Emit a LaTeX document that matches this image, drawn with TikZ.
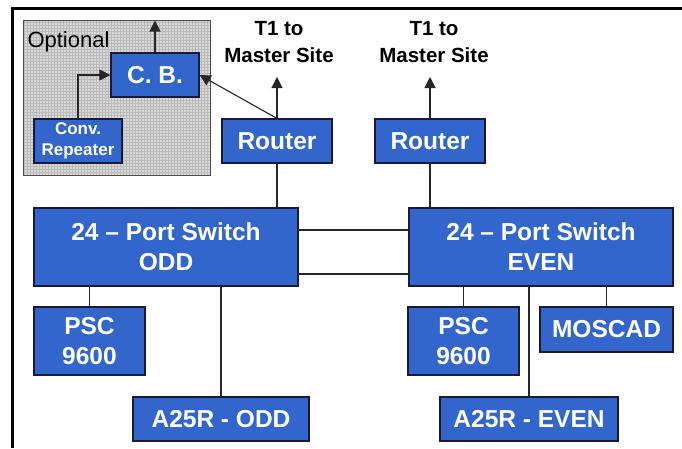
\documentclass[tikz,border=0pt]{standalone}
\usepackage{fontspec}
\setmainfont{Liberation Sans}
\usetikzlibrary{arrows.meta,patterns}
\definecolor{boxblue}{HTML}{3366CC}
\definecolor{boxedge}{HTML}{1A1A33}
\tikzset{
  unit/.style={draw=boxedge, line width=1.2pt, fill=boxblue, text=white, font=\fontsize{24.5}{30}\selectfont\bfseries, align=center, inner sep=0pt},
  conn/.style={draw=black!85, line width=1.1pt},
  arr/.style={conn, -{Triangle[width=11pt,length=11pt]}},
  lbl/.style={font=\fontsize{20.5}{27}\selectfont\bfseries, align=center, text=black}
}
\begin{document}
\begin{tikzpicture}[x=1pt,y=-1pt]
\useasboundingbox (0,0) rectangle (682,448);
% frame
\draw[line width=3pt] (12.5,448) -- (12.5,8) -- (682,8);
% optional area
\fill[gray!30] (23,20) rectangle (210,175);
\path[pattern=grid, pattern color=gray!55] (23,20) rectangle (210,175);
\draw[gray!60!black, line width=1pt] (23,20) rectangle (210,175);
\node[anchor=west, font=\fontsize{22}{24}\selectfont, text=black] (opt) at (24,42) {Optional};
% nodes
\node[unit, minimum width=88, minimum height=44] (cb) at (155,75) {C. B.};
\node[unit, minimum width=88, minimum height=44, font=\fontsize{17}{21}\selectfont\bfseries] (conv) at (78,141) {Conv.\\Repeater};
\node[unit, minimum width=110, minimum height=44] (r1) at (277,141) {Router};
\node[unit, minimum width=110, minimum height=44] (r2) at (430,141) {Router};
\node[unit, minimum width=264, minimum height=78] (odd) at (166,247) {24 -- Port Switch\\ODD};
\node[unit, minimum width=264, minimum height=78] (even) at (541,247) {24 -- Port Switch\\EVEN};
\node[unit, minimum width=111, minimum height=68] (psc1) at (89.5,341) {PSC\\9600};
\node[unit, minimum width=176, minimum height=44] (a1) at (221,419) {A25R - ODD};
\node[unit, minimum width=111, minimum height=68] (psc2) at (463.5,341) {PSC\\9600};
\node[unit, minimum width=133, minimum height=45] (mos) at (606.5,329.5) {MOSCAD};
\node[unit, minimum width=178, minimum height=44] (a2) at (529,419) {A25R - EVEN};
% labels
\node[lbl] (t1a) at (279,42) {T1 to\\Master Site};
\node[lbl] (t1b) at (434,42) {T1 to\\Master Site};
\coordinate (cbout) at (155,20.5);
\coordinate (up1) at (277,77);
\coordinate (up2) at (430,77);
% connectors
\draw[arr] (cb.north) -- (cbout);
\draw[arr] (conv.north) |- (cb.west);
\draw[arr] (r1.north) -- (cb.east);
\draw[arr] (r1.north) -- (up1);
\draw[arr] (r2.north) -- (up2);
\draw[conn] (r1.south) -- (r1.south |- odd.north);
\draw[conn] (r2.south) -- (r2.south |- even.north);
\draw[conn] ([yshift=17pt]odd.east) -- ([yshift=17pt]even.west);
\draw[conn] ([yshift=-27pt]odd.east) -- ([yshift=-27pt]even.west);
\draw[conn] (psc1.north) -- (psc1.north |- odd.south);
\draw[conn] (a1.north) -- (a1.north |- odd.south);
\draw[conn] (psc2.north) -- (psc2.north |- even.south);
\draw[conn] (mos.north) -- (mos.north |- even.south);
\draw[conn] (a2.north) -- (a2.north |- even.south);
\end{tikzpicture}
\end{document}
